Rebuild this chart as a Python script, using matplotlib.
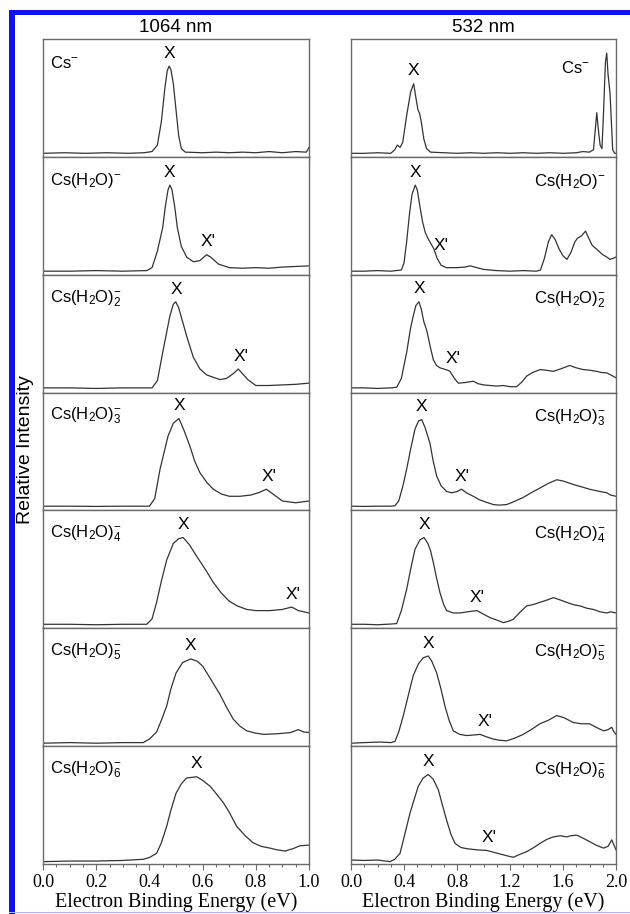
import numpy as np
import matplotlib
matplotlib.use('Agg')
import matplotlib.pyplot as plt
from matplotlib.patches import Rectangle
from matplotlib.ticker import MultipleLocator

plt.rcParams['font.family'] = 'Liberation Sans'
plt.rcParams['mathtext.fontset'] = 'custom'
plt.rcParams['mathtext.rm'] = 'Liberation Sans'
plt.rcParams['mathtext.it'] = 'Liberation Sans:italic'

# --- spectra: (binding energy eV, relative intensity) ---
# 1064 nm column
cs0_1064 = [(0.00, 0.03), (0.08, 0.035), (0.16, 0.03), (0.24, 0.035), (0.32, 0.03), (0.38, 0.035),
            (0.41, 0.045), (0.43, 0.10), (0.445, 0.30), (0.458, 0.58), (0.467, 0.73), (0.474, 0.77),
            (0.481, 0.74), (0.49, 0.62), (0.50, 0.40), (0.51, 0.18), (0.52, 0.07), (0.535, 0.04),
            (0.60, 0.035), (0.65, 0.04), (0.70, 0.035), (0.75, 0.04), (0.80, 0.035), (0.85, 0.045),
            (0.90, 0.035), (0.95, 0.045), (0.99, 0.04), (1.00, 0.08)]
cs1_1064 = [(0.00, 0.03), (0.1, 0.03), (0.2, 0.035), (0.3, 0.03), (0.39, 0.035), (0.41, 0.06),
            (0.43, 0.20), (0.45, 0.40), (0.46, 0.58), (0.47, 0.72), (0.477, 0.76), (0.485, 0.72),
            (0.495, 0.58), (0.505, 0.40), (0.52, 0.24), (0.54, 0.15), (0.565, 0.11), (0.59, 0.12),
            (0.615, 0.17), (0.63, 0.15), (0.66, 0.09), (0.70, 0.06), (0.75, 0.055), (0.80, 0.06),
            (0.85, 0.055), (0.90, 0.065), (0.95, 0.07), (1.00, 0.075)]
cs2_1064 = [(0.00, 0.04), (0.1, 0.04), (0.2, 0.035), (0.3, 0.04), (0.41, 0.04), (0.43, 0.10),
            (0.45, 0.34), (0.477, 0.65), (0.49, 0.75), (0.499, 0.77), (0.51, 0.72), (0.525, 0.60),
            (0.54, 0.48), (0.565, 0.30), (0.59, 0.20), (0.615, 0.15), (0.64, 0.13), (0.665, 0.11),
            (0.69, 0.12), (0.715, 0.16), (0.734, 0.20), (0.75, 0.16), (0.77, 0.11), (0.80, 0.06),
            (0.85, 0.06), (0.90, 0.065), (0.95, 0.07), (1.00, 0.08)]
cs3_1064 = [(0.00, 0.036), (0.1, 0.036), (0.2, 0.034), (0.3, 0.036), (0.40, 0.036), (0.42, 0.10),
            (0.44, 0.35), (0.47, 0.63), (0.49, 0.74), (0.511, 0.78), (0.53, 0.68), (0.553, 0.54),
            (0.57, 0.42), (0.59, 0.32), (0.615, 0.24), (0.64, 0.18), (0.67, 0.14), (0.70, 0.12),
            (0.74, 0.12), (0.78, 0.13), (0.81, 0.15), (0.84, 0.18), (0.87, 0.13), (0.90, 0.08),
            (0.95, 0.065), (1.00, 0.08)]
cs4_1064 = [(0.00, 0.034), (0.1, 0.034), (0.2, 0.03), (0.3, 0.034), (0.39, 0.034), (0.41, 0.08),
            (0.427, 0.22), (0.445, 0.40), (0.465, 0.58), (0.49, 0.72), (0.51, 0.76), (0.527, 0.77),
            (0.55, 0.71), (0.578, 0.61), (0.61, 0.50), (0.64, 0.39), (0.67, 0.30), (0.70, 0.23),
            (0.73, 0.19), (0.766, 0.16), (0.80, 0.15), (0.853, 0.15), (0.90, 0.16), (0.935, 0.18),
            (0.96, 0.15), (1.00, 0.13)]
cs5_1064 = [(0.00, 0.025), (0.1, 0.03), (0.2, 0.025), (0.3, 0.03), (0.377, 0.03), (0.40, 0.06),
            (0.427, 0.12), (0.445, 0.22), (0.465, 0.34), (0.48, 0.48), (0.50, 0.62), (0.525, 0.71),
            (0.556, 0.74), (0.58, 0.72), (0.60, 0.68), (0.63, 0.57), (0.665, 0.44), (0.69, 0.33),
            (0.715, 0.23), (0.74, 0.17), (0.766, 0.13), (0.80, 0.11), (0.83, 0.10), (0.88, 0.105),
            (0.93, 0.115), (0.96, 0.14), (0.98, 0.12), (1.00, 0.116)]
cs6_1064 = [(0.00, 0.02), (0.1, 0.025), (0.2, 0.025), (0.3, 0.03), (0.377, 0.04), (0.40, 0.055),
            (0.427, 0.09), (0.445, 0.18), (0.465, 0.32), (0.48, 0.45), (0.50, 0.60), (0.52, 0.68),
            (0.54, 0.73), (0.578, 0.74), (0.60, 0.71), (0.628, 0.66), (0.65, 0.60), (0.678, 0.52),
            (0.70, 0.44), (0.728, 0.32), (0.76, 0.24), (0.79, 0.18), (0.82, 0.15), (0.853, 0.135),
            (0.88, 0.12), (0.91, 0.11), (0.94, 0.13), (0.966, 0.155), (1.00, 0.16)]

# 532 nm column
cs0_532 = [(0.00, 0.03), (0.1, 0.03), (0.2, 0.035), (0.30, 0.03), (0.33, 0.06), (0.35, 0.10),
           (0.37, 0.08), (0.39, 0.12), (0.42, 0.35), (0.45, 0.55), (0.473, 0.62), (0.49, 0.50),
           (0.505, 0.40), (0.517, 0.37), (0.53, 0.30), (0.55, 0.15), (0.57, 0.07), (0.60, 0.04),
           (0.7, 0.035), (0.8, 0.03), (0.9, 0.035), (1.0, 0.03), (1.1, 0.035), (1.2, 0.03),
           (1.3, 0.035), (1.4, 0.03), (1.5, 0.035), (1.6, 0.03), (1.7, 0.035), (1.75, 0.045),
           (1.80, 0.04), (1.83, 0.06), (1.845, 0.25), (1.855, 0.375), (1.865, 0.25), (1.88, 0.10),
           (1.894, 0.07), (1.905, 0.35), (1.92, 0.80), (1.93, 0.88), (1.94, 0.70), (1.955, 0.54),
           (1.965, 0.30), (1.975, 0.06), (1.99, 0.03), (2.00, 0.03)]
cs1_532 = [(0.00, 0.03), (0.1, 0.03), (0.2, 0.035), (0.3, 0.03), (0.38, 0.04), (0.40, 0.10),
           (0.42, 0.28), (0.44, 0.50), (0.46, 0.68), (0.485, 0.76), (0.50, 0.72), (0.52, 0.58),
           (0.54, 0.45), (0.56, 0.36), (0.58, 0.31), (0.60, 0.27), (0.625, 0.22), (0.65, 0.14),
           (0.68, 0.08), (0.72, 0.06), (0.80, 0.06), (0.86, 0.065), (0.90, 0.075), (0.95, 0.06),
           (1.0, 0.045), (1.1, 0.035), (1.2, 0.03), (1.3, 0.035), (1.40, 0.03), (1.43, 0.04),
           (1.46, 0.14), (1.49, 0.28), (1.515, 0.34), (1.54, 0.30), (1.57, 0.22), (1.60, 0.16),
           (1.63, 0.13), (1.66, 0.19), (1.69, 0.28), (1.71, 0.31), (1.74, 0.33), (1.77, 0.37),
           (1.79, 0.32), (1.82, 0.25), (1.86, 0.21), (1.90, 0.17), (1.93, 0.15), (1.955, 0.13),
           (1.98, 0.14), (2.00, 0.15)]
cs2_532 = [(0.00, 0.04), (0.1, 0.04), (0.2, 0.035), (0.3, 0.04), (0.345, 0.045), (0.38, 0.12),
           (0.42, 0.34), (0.45, 0.55), (0.47, 0.65), (0.49, 0.74), (0.513, 0.77), (0.53, 0.71),
           (0.55, 0.60), (0.571, 0.53), (0.60, 0.38), (0.621, 0.28), (0.645, 0.23), (0.672, 0.21),
           (0.70, 0.20), (0.73, 0.19), (0.747, 0.18), (0.78, 0.12), (0.81, 0.08), (0.86, 0.085),
           (0.923, 0.096), (0.96, 0.075), (1.0, 0.065), (1.05, 0.06), (1.10, 0.055), (1.15, 0.06),
           (1.20, 0.05), (1.25, 0.05), (1.29, 0.09), (1.326, 0.14), (1.37, 0.17), (1.427, 0.195),
           (1.47, 0.19), (1.527, 0.18), (1.58, 0.20), (1.65, 0.23), (1.70, 0.21), (1.753, 0.195),
           (1.80, 0.19), (1.855, 0.18), (1.89, 0.17), (1.93, 0.167), (1.96, 0.15), (2.00, 0.125)]
cs3_532 = [(0.00, 0.036), (0.1, 0.034), (0.2, 0.036), (0.3, 0.036), (0.332, 0.04), (0.36, 0.08),
           (0.39, 0.20), (0.42, 0.35), (0.45, 0.52), (0.483, 0.69), (0.51, 0.76), (0.534, 0.77),
           (0.56, 0.70), (0.596, 0.57), (0.62, 0.42), (0.647, 0.29), (0.68, 0.21), (0.722, 0.16),
           (0.76, 0.15), (0.80, 0.16), (0.835, 0.18), (0.87, 0.15), (0.923, 0.12), (0.97, 0.09),
           (1.02, 0.07), (1.074, 0.05), (1.12, 0.045), (1.175, 0.05), (1.22, 0.07), (1.26, 0.09),
           (1.30, 0.11), (1.36, 0.15), (1.426, 0.19), (1.49, 0.23), (1.553, 0.26), (1.60, 0.25),
           (1.678, 0.22), (1.74, 0.20), (1.80, 0.18), (1.86, 0.165), (1.93, 0.15), (1.96, 0.13),
           (2.00, 0.12)]
cs4_532 = [(0.00, 0.034), (0.1, 0.034), (0.2, 0.03), (0.3, 0.036), (0.345, 0.04), (0.38, 0.15),
           (0.42, 0.33), (0.45, 0.50), (0.483, 0.67), (0.52, 0.75), (0.551, 0.77), (0.58, 0.72),
           (0.60, 0.66), (0.621, 0.56), (0.645, 0.43), (0.672, 0.30), (0.70, 0.20), (0.722, 0.15),
           (0.77, 0.13), (0.823, 0.13), (0.88, 0.14), (0.95, 0.15), (1.00, 0.12), (1.05, 0.09),
           (1.10, 0.07), (1.15, 0.048), (1.19, 0.06), (1.225, 0.076), (1.27, 0.13), (1.326, 0.19),
           (1.37, 0.20), (1.426, 0.22), (1.48, 0.24), (1.527, 0.26), (1.58, 0.24), (1.628, 0.22),
           (1.68, 0.20), (1.728, 0.19), (1.78, 0.17), (1.829, 0.16), (1.88, 0.14), (1.93, 0.13),
           (1.96, 0.14), (2.00, 0.13)]
cs5_532 = [(0.00, 0.025), (0.1, 0.03), (0.22, 0.035), (0.30, 0.03), (0.332, 0.04), (0.36, 0.12),
           (0.395, 0.26), (0.43, 0.42), (0.47, 0.60), (0.51, 0.70), (0.545, 0.75), (0.583, 0.765),
           (0.61, 0.72), (0.647, 0.62), (0.68, 0.48), (0.709, 0.34), (0.74, 0.22), (0.772, 0.13),
           (0.82, 0.10), (0.873, 0.09), (0.93, 0.095), (0.974, 0.10), (1.02, 0.08), (1.074, 0.06),
           (1.12, 0.05), (1.175, 0.045), (1.24, 0.07), (1.30, 0.10), (1.36, 0.14), (1.426, 0.19),
           (1.49, 0.22), (1.553, 0.26), (1.61, 0.24), (1.678, 0.20), (1.74, 0.19), (1.80, 0.19),
           (1.85, 0.16), (1.905, 0.13), (1.94, 0.14), (1.968, 0.16), (1.985, 0.12), (2.00, 0.10)]
cs6_532 = [(0.00, 0.034), (0.1, 0.03), (0.2, 0.034), (0.294, 0.02), (0.33, 0.04), (0.37, 0.09),
           (0.41, 0.27), (0.445, 0.43), (0.48, 0.56), (0.508, 0.66), (0.545, 0.73), (0.583, 0.76),
           (0.62, 0.72), (0.659, 0.63), (0.69, 0.50), (0.722, 0.37), (0.755, 0.25), (0.785, 0.175),
           (0.83, 0.14), (0.873, 0.13), (0.95, 0.12), (1.024, 0.115), (1.075, 0.10), (1.125, 0.085),
           (1.175, 0.07), (1.225, 0.057), (1.27, 0.08), (1.326, 0.105), (1.38, 0.14), (1.426, 0.175),
           (1.48, 0.21), (1.527, 0.23), (1.58, 0.24), (1.628, 0.23), (1.66, 0.24), (1.703, 0.245),
           (1.75, 0.22), (1.80, 0.19), (1.85, 0.16), (1.905, 0.135), (1.94, 0.15), (1.968, 0.205),
           (1.985, 0.16), (2.00, 0.12)]

# peak energies of the X and X' features marked in the figure
x_peak_1064 = [0.474, 0.477, 0.50, 0.511, 0.527, 0.556, 0.578]
x_peak_532 = [0.473, 0.485, 0.513, 0.534, 0.551, 0.583, 0.583]
xp_peak_1064 = [None, 0.62, 0.745, 0.85, 0.94, None, None]
xp_peak_532 = [None, 0.68, 0.77, 0.84, 0.95, 1.01, 1.04]

cluster_labels = ['Cs$^{-}$', 'Cs(H$_2$O)$^{-}$', 'Cs(H$_2$O)$_2^{-}$', 'Cs(H$_2$O)$_3^{-}$',
                  'Cs(H$_2$O)$_4^{-}$', 'Cs(H$_2$O)$_5^{-}$', 'Cs(H$_2$O)$_6^{-}$']
column_titles = ['1064 nm', '532 nm']

spectra_1064 = [cs0_1064, cs1_1064, cs2_1064, cs3_1064, cs4_1064, cs5_1064, cs6_1064]
spectra_532 = [cs0_532, cs1_532, cs2_532, cs3_532, cs4_532, cs5_532, cs6_532]

W, H = 630, 914
fig = plt.figure(figsize=(W / 100, H / 100), dpi=100)

# blue frame of the original scan
fig.patches.append(Rectangle((9 / W, 0), 6 / W, 1 - 10 / H, transform=fig.transFigure,
                             color='#1010f0', lw=0))
fig.patches.append(Rectangle((9 / W, 1 - 15 / H), 1 - 9 / W, 5 / H, transform=fig.transFigure,
                             color='#1010f0', lw=0))
fig.patches.append(Rectangle((9 / W, 1 - 913 / H), 1 - 9 / W, 1.2 / H, transform=fig.transFigure,
                             color='#aab4ff', lw=0))

top, bottom = 39, 864
ph = (bottom - top) / 7
columns = [(43, 309, 1.0, 0.2, 0.05), (351, 616, 2.0, 0.4, 0.1)]
line_col = '#333333'
spine_col = '#6a6a6a'

for c, (x0, x1, xmax, major, minor) in enumerate(columns):
    spectra = spectra_1064 if c == 0 else spectra_532
    xpk = x_peak_1064 if c == 0 else x_peak_532
    xppk = xp_peak_1064 if c == 0 else xp_peak_532
    for i in range(7):
        y_top = top + i * ph
        ax = fig.add_axes([x0 / W, 1 - (y_top + ph) / H, (x1 - x0) / W, ph / H])
        xs = np.array([p[0] for p in spectra[i]])
        ys = np.array([p[1] for p in spectra[i]])
        ax.plot(xs, ys, color=line_col, lw=0.9)
        ax.set_xlim(0, xmax)
        ax.set_ylim(0, 1)
        ax.set_yticks([])
        ax.xaxis.set_major_locator(MultipleLocator(major))
        ax.xaxis.set_minor_locator(MultipleLocator(minor))
        ax.tick_params(axis='x', which='both', direction='out', color=spine_col,
                       labelbottom=(i == 6), labelsize=13, pad=3)
        ax.tick_params(axis='x', which='major', length=4, width=0.8)
        ax.tick_params(axis='x', which='minor', length=2.5, width=0.8)
        for sp in ax.spines.values():
            sp.set_color(spine_col)
            sp.set_linewidth(1.0)
        if i == 6:
            for lab in ax.get_xticklabels():
                lab.set_fontfamily('Liberation Serif')
            ax.set_xlabel('Electron Binding Energy (eV)', family='Liberation Serif',
                          fontsize=14.5, labelpad=1)

        # X marker above the main peak
        yx = np.interp(xpk[i], xs, ys)
        ax.text(xpk[i], yx + 0.11, 'X', ha='center', va='center', fontsize=12.5)
        # X' marker
        if xppk[i] is not None:
            win = (xs > xppk[i] - 0.04) & (xs < xppk[i] + 0.04)
            yxp = max(ys[win].max(), np.interp(xppk[i], xs, ys))
            ax.text(xppk[i], yxp + 0.11, "X'", ha='center', va='center', fontsize=12.5)

        # cluster label
        if c == 0:
            ax.text(0.026, 0.80, cluster_labels[i], transform=ax.transAxes,
                    ha='left', va='center', fontsize=12)
        elif i == 0:
            ax.text(0.90, 0.75, cluster_labels[i], transform=ax.transAxes,
                    ha='right', va='center', fontsize=12)
        else:
            ax.text(0.96, 0.79, cluster_labels[i], transform=ax.transAxes,
                    ha='right', va='center', fontsize=12)

    fig.text((x0 + x1) / 2 / W, 1 - 27 / H, column_titles[c], ha='center', va='center',
             fontsize=13.5)

fig.text(26 / W, 1 - 450 / H, 'Relative Intensity', rotation=90, ha='center', va='center',
         fontsize=14)

fig.savefig('out.png', dpi=100)
